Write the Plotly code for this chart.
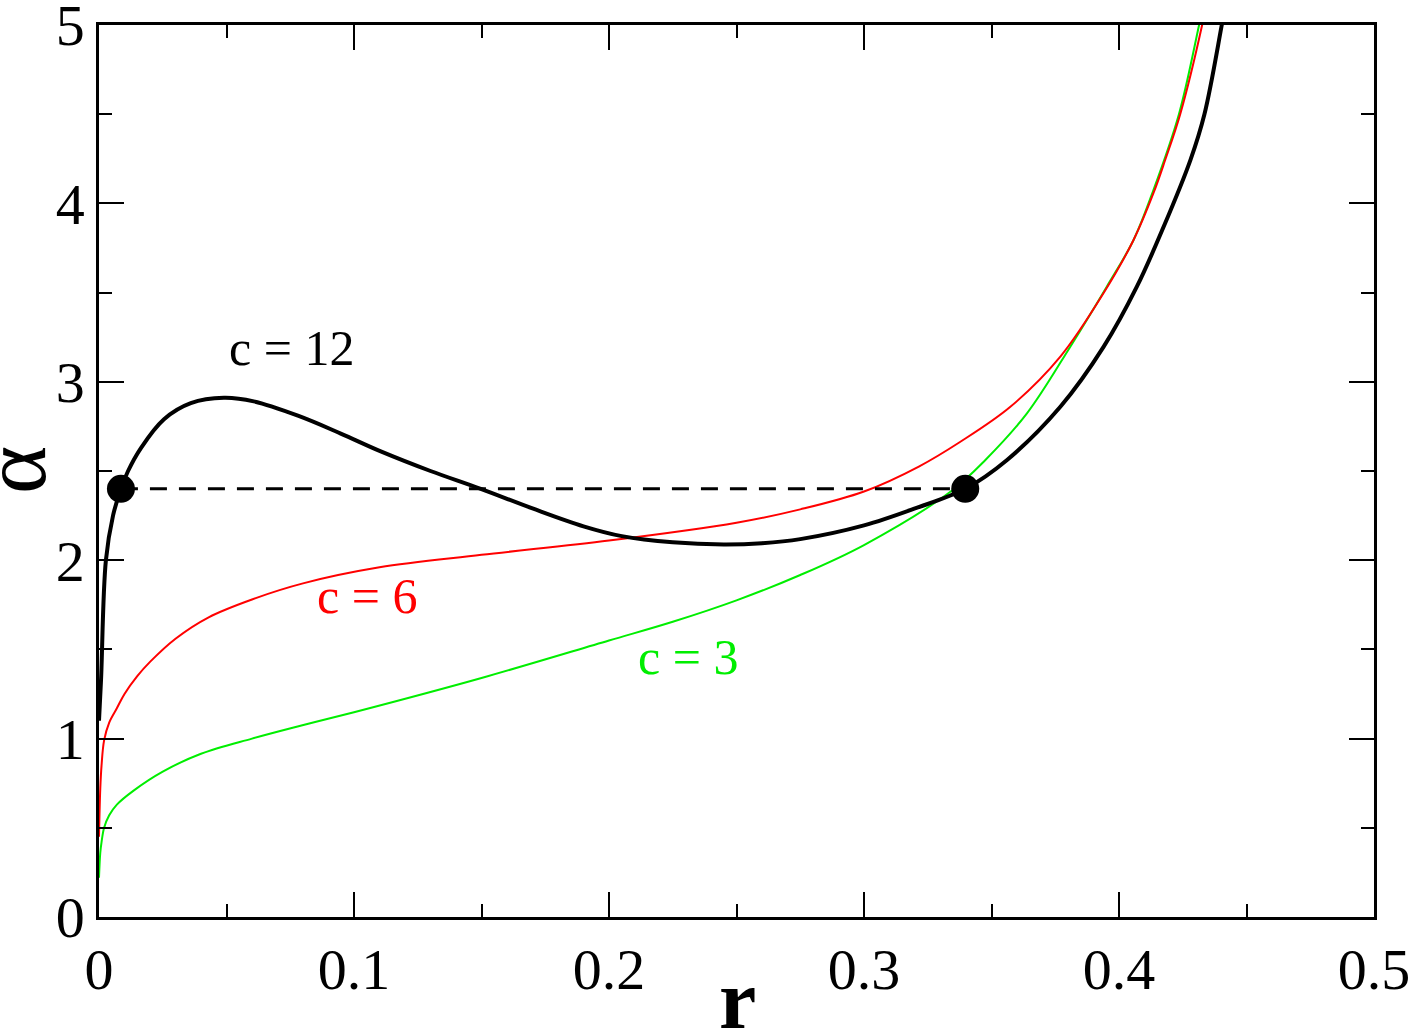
import plotly.graph_objects as go

# c = 12 (black)
r12 = [0.0, 0.0008, 0.0027, 0.0055, 0.0086, 0.0114, 0.0165, 0.0255, 0.036, 0.049, 0.0607,
       0.078, 0.0948, 0.1105, 0.13, 0.1497, 0.17, 0.19, 0.205, 0.225, 0.245, 0.26, 0.275,
       0.30, 0.32, 0.3397, 0.3561, 0.377, 0.394, 0.407, 0.4175, 0.428, 0.4335, 0.4403, 0.444]
a12 = [1.1, 1.33, 2.0, 2.25, 2.4, 2.5, 2.63, 2.79, 2.88, 2.91, 2.89,
       2.81, 2.71, 2.61, 2.50, 2.40, 2.29, 2.19, 2.135, 2.10, 2.088, 2.095, 2.118,
       2.195, 2.29, 2.40, 2.562, 2.86, 3.197, 3.533, 3.869, 4.243, 4.5, 5.0, 5.3]

# c = 6 (red)
r6 = [0.0, 0.0005, 0.001, 0.002, 0.004, 0.007, 0.01, 0.015, 0.02, 0.03, 0.043, 0.06, 0.08,
      0.11, 0.15, 0.2, 0.25, 0.275, 0.30, 0.3215, 0.3378, 0.3574, 0.377, 0.3939, 0.4057,
      0.4135, 0.4181, 0.424, 0.4326, 0.436]
a6 = [0.45, 0.72, 0.85, 0.99, 1.09, 1.17, 1.25, 1.35, 1.43, 1.56, 1.68, 1.78, 1.87,
      1.96, 2.03, 2.11, 2.21, 2.285, 2.385, 2.525, 2.664, 2.86, 3.141, 3.496, 3.795,
      4.057, 4.243, 4.5, 5.0, 5.25]

# c = 3 (green)
r3 = [0.0, 0.0005, 0.001, 0.002, 0.004, 0.007, 0.0137, 0.025, 0.04, 0.06, 0.079, 0.1,
      0.15, 0.2, 0.225, 0.25, 0.275, 0.30, 0.334, 0.3476, 0.3639, 0.3809, 0.3952, 0.4057,
      0.4135, 0.4235, 0.4314, 0.435]
a3 = [0.22, 0.36, 0.42, 0.50, 0.57, 0.63, 0.71, 0.815, 0.915, 1.0, 1.072, 1.148,
      1.34, 1.55, 1.655, 1.775, 1.917, 2.085, 2.385, 2.562, 2.823, 3.197, 3.533, 3.795,
      4.075, 4.5, 5.0, 5.25]

# coexistence line and end points
tie_r = [0.0086, 0.3397]
tie_a = [2.4, 2.4]

labels = ["c = 12", "c = 6", "c = 3"]
label_r = [0.0756, 0.1049, 0.2308]
label_a = [3.19, 1.80, 1.46]
label_colors = ["black", "red", "#00ee00"]

FONT = "Liberation Serif"

fig = go.Figure()
fig.add_trace(go.Scatter(x=r3, y=a3, mode="lines", line=dict(color="#00ee00", width=2, shape="spline"),
                         showlegend=False))
fig.add_trace(go.Scatter(x=r6, y=a6, mode="lines", line=dict(color="red", width=2, shape="spline"),
                         showlegend=False))
fig.add_trace(go.Scatter(x=r12, y=a12, mode="lines", line=dict(color="black", width=4, shape="spline"),
                         showlegend=False))
fig.add_trace(go.Scatter(x=tie_r, y=tie_a, mode="lines", line=dict(color="black", width=3, dash="17px,12px"),
                         showlegend=False))
fig.add_trace(go.Scatter(x=tie_r, y=tie_a, mode="markers", marker=dict(color="black", size=28),
                         showlegend=False, cliponaxis=False))

for t, x, y, c in zip(labels, label_r, label_a, label_colors):
    fig.add_annotation(x=x, y=y, text=t, showarrow=False, font=dict(family=FONT, size=50, color=c))

# axis titles
fig.add_annotation(xref="paper", yref="paper", x=0.5004, y=-0.092, text="<b>r</b>", showarrow=False,
                   xanchor="center", yanchor="middle", font=dict(family=FONT, size=84, color="black"))
fig.add_annotation(xref="paper", yref="paper", x=-0.0667, y=0.501, text="α", showarrow=False,
                   textangle=-90, xanchor="center", yanchor="middle",
                   font=dict(family=FONT, size=92, color="black"))

axis_common = dict(
    showline=True, linecolor="black", linewidth=2.5, mirror="ticks",
    ticks="inside", ticklen=25, tickwidth=2, tickcolor="black",
    showgrid=False, zeroline=False, automargin=False, ticklabeloverflow="allow",
    tickfont=dict(family=FONT, size=58, color="black"),
)

fig.update_xaxes(range=[0, 0.5], tickvals=[0, 0.1, 0.2, 0.3, 0.4, 0.5],
                 ticktext=["0", "0.1", "0.2", "0.3", "0.4", "0.5"],
                 minor=dict(ticks="inside", ticklen=13, tickwidth=2, tickcolor="black", dtick=0.05, showgrid=False),
                 **axis_common)
fig.update_yaxes(range=[0, 5], tickvals=[0, 1, 2, 3, 4, 5],
                 ticktext=["0", "1", "2", "3", "4", "5"],
                 minor=dict(ticks="inside", ticklen=13, tickwidth=2, tickcolor="black", dtick=0.5, showgrid=False),
                 **axis_common)

fig.update_layout(width=1415, height=1032, margin=dict(l=99, r=41, t=25, b=115),
                  plot_bgcolor="white", paper_bgcolor="white")

fig.write_html("out.html")
